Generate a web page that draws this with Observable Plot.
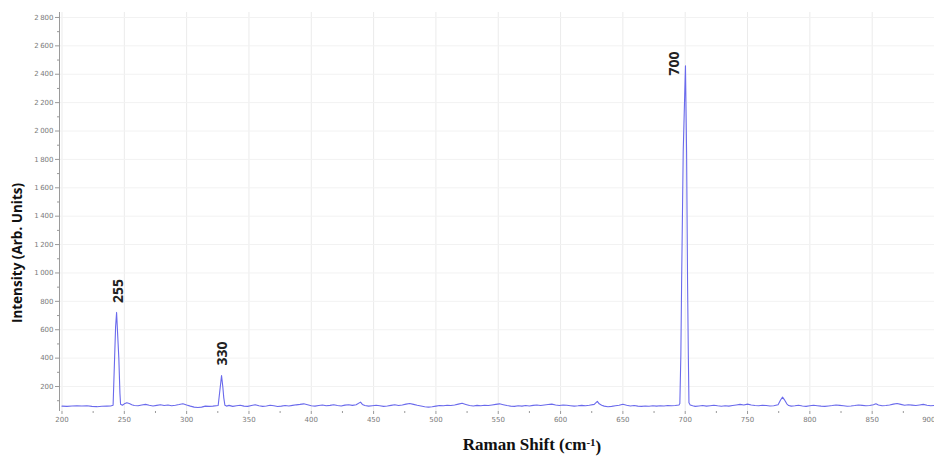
<!DOCTYPE html>
<html>
<head>
<meta charset="utf-8">
<script src="https://cdn.jsdelivr.net/npm/d3@7"></script>
<script src="https://cdn.jsdelivr.net/npm/@observablehq/plot@0.6"></script>
<style>
  html, body { margin: 0; padding: 0; background: #fff; }
  #chart svg { display: block; }
</style>
</head>
<body>
<div id="chart"></div>
<script>
// Raman shift (cm-1) and intensity (arb. units)
const shift = [
  200, 204, 208, 212, 216, 220, 224, 228, 232, 236, 239, 241, 242.2, 243, 243.8, 244.7, 245.6, 246.5, 247,
  248.5, 250, 252, 254, 256, 258, 261, 264, 267, 270, 273, 276, 279, 282, 285, 288, 291, 294, 297, 300,
  303, 306, 309, 312, 315, 318, 321, 325.3, 326.5, 328, 329, 329.8, 330.7, 332, 334, 337, 340, 343, 346,
  349, 352, 355, 358, 361, 364, 367, 370, 373, 376, 379, 382, 385, 388, 391, 394, 397, 400,
  403, 406, 409, 412, 415, 418, 421, 424, 427, 430, 433, 436, 439.5, 441, 443, 446, 449, 452, 455, 458,
  461, 464, 467, 470, 473, 476, 479, 482, 485, 488, 491, 494, 497, 500, 503, 506, 509, 512, 515, 518,
  521, 524, 527, 530, 533, 536, 539, 542, 545, 548, 551, 554, 557, 560, 563, 566, 569, 572, 575, 578,
  581, 584, 587, 590, 593, 596, 599, 602, 605, 608, 611, 614, 617, 620, 623, 627, 629.5, 631, 633, 635,
  638, 641, 644, 647, 650, 653, 656, 659, 662, 665, 668, 671, 674, 677, 680, 683, 686, 689, 692, 695,
  695.7, 696.5, 697.1, 698.4, 700.2, 701.1, 701.9, 702.5, 703, 704, 706, 708, 711, 714, 717, 720, 723, 726,
  729, 732, 735, 738, 741, 744, 747, 750, 753, 756, 759, 762, 765, 768, 771, 774.5, 776.5, 778.1, 779.5, 781.5,
  783, 785, 788, 791, 794, 797, 800, 803, 806, 809, 812, 815, 818, 821, 824, 827, 830, 833, 836, 839,
  842, 845, 848, 851, 853, 855, 858, 861, 864, 867, 870, 873, 876, 879, 882, 885, 888, 891, 894, 897, 900
];
const intensity = [
  62, 60, 63, 65, 63, 64, 60, 58, 61, 62, 63, 68, 400, 620, 722, 560, 400, 150, 75,
  68, 78, 85, 80, 72, 66, 64, 70, 74, 68, 63, 67, 71, 66, 70, 64, 68, 73, 79, 70,
  62, 55, 52, 55, 62, 60, 62, 66, 160, 277, 200, 120, 68, 62, 67, 60, 64, 68, 62,
  60, 66, 72, 65, 60, 63, 68, 64, 59, 62, 66, 63, 67, 71, 74, 78, 72, 65,
  62, 66, 70, 64, 67, 72, 66, 63, 69, 72, 67, 72, 90, 74, 66, 62, 65, 68, 64, 60,
  63, 67, 71, 66, 70, 76, 80, 74, 68, 63, 58, 55, 57, 62, 66, 64, 68, 66, 70, 76,
  82, 74, 66, 63, 67, 64, 68, 66, 70, 74, 78, 72, 66, 62, 60, 64, 62, 66, 63, 67,
  70, 66, 70, 73, 76, 70, 66, 70, 68, 65, 62, 64, 67, 65, 68, 74, 95, 78, 68, 62,
  58, 60, 64, 68, 75, 68, 63, 66, 62, 60, 63, 61, 64, 62, 65, 63, 66, 64, 66, 70,
  80, 420, 923, 1856, 2460, 1856, 923, 420, 85, 70, 64, 60, 63, 66, 62, 65, 68, 64,
  61, 64, 62, 66, 70, 74, 70, 76, 70, 66, 64, 68, 66, 63, 65, 72, 105, 125, 108, 78,
  66, 62, 64, 68, 63, 60, 64, 68, 65, 62, 60, 63, 66, 70, 67, 64, 61, 63, 66, 70,
  67, 64, 66, 72, 78, 70, 64, 66, 70, 76, 80, 74, 68, 72, 69, 66, 70, 74, 68, 65, 67
];

// Peak annotations
const peakLabels = ["255", "330", "700"];
const peakLabelX = [245, 329, 691.5];
const peakLabelY = [873, 432, 2476];

// Axis ticks
const xTicks = [200, 250, 300, 350, 400, 450, 500, 550, 600, 650, 700, 750, 800, 850];
const xLastTick = [900];
const xMinor = [225, 275, 325, 375, 425, 475, 525, 575, 625, 675, 725, 775, 825, 875];
const yTicks = [200, 400, 600, 800, 1000, 1200, 1400, 1600, 1800, 2000, 2200, 2400, 2600, 2800];
const yMinor = [100, 300, 500, 700, 900, 1100, 1300, 1500, 1700, 1900, 2100, 2300, 2500, 2700];

const yTitle = "Intensity (Arb. Units)";
const xTitle = "Raman Shift (cm-1)";

const spectrum = shift.map((x, i) => ({x, y: intensity[i]}));
const labels = peakLabels.map((t, i) => ({x: peakLabelX[i], y: peakLabelY[i], t}));
const fmt = d => d >= 1000 ? String(d).replace(/(\d)(\d{3})$/, "$1\u2009$2") : String(d);

const tickStyle = {fontSize: 7, color: "#7a7a7a", stroke: "#9a9a9a", label: null};

const chart = Plot.plot({
  width: 934,
  height: 457,
  marginLeft: 59,
  marginRight: 0,
  marginTop: 12,
  marginBottom: 46,
  style: {background: "#fff", fontFamily: "DejaVu Sans"},
  x: {domain: [198, 900]},
  y: {domain: [24, 2835]},
  marks: [
    Plot.gridX(xTicks.concat(xLastTick), {stroke: "#ebebeb", strokeOpacity: 1}),
    Plot.gridY(yTicks, {stroke: "#f2f2f2", strokeOpacity: 1}),
    Plot.ruleX([198], {stroke: "#9a9a9a"}),
    Plot.axisY(yTicks, {...tickStyle, tickSize: 4, tickFormat: fmt, tickPadding: 2}),
    Plot.axisY(yMinor, {tickSize: 2, tickFormat: () => "", stroke: "#9a9a9a", label: null}),
    Plot.axisX(xTicks, {...tickStyle, tickSize: 3, tickPadding: 3}),
    Plot.axisX(xLastTick, {...tickStyle, tickSize: 3, tickPadding: 3, textAnchor: "end", dx: 1}),
    Plot.axisX(xMinor, {tickSize: 2, tickFormat: () => "", stroke: "#9a9a9a", label: null}),
    Plot.line(spectrum, {x: "x", y: "y", stroke: "#6a6aec", strokeWidth: 1.1}),
    Plot.text(labels, {x: "x", y: "y", text: "t", rotate: -90, fontSize: 14, fontWeight: "bold", fontFamily: "Open Sans", fill: "#222"}),
    Plot.text([yTitle], {frameAnchor: "left", text: d => d, rotate: -90, textAnchor: "middle", lineAnchor: "middle", dx: -42, dy: 41, fontSize: 13.5, fontWeight: "bold", fontFamily: "Open Sans", fill: "#111"}),
    Plot.text([xTitle], {frameAnchor: "bottom", text: d => d, textAnchor: "middle", lineAnchor: "middle", dx: 35, dy: 33, fontSize: 17, fontWeight: "bold", fontFamily: "Liberation Serif", fill: "#111"})
  ]
});

// superscript for the unit
d3.select(chart).selectAll("text").filter(function () { return this.textContent === xTitle; })
  .each(function () {
    const t = d3.select(this);
    t.text(null);
    t.append("tspan").text("Raman Shift (cm");
    t.append("tspan").attr("dy", "-0.4em").attr("font-size", "11px").text("-1");
    t.append("tspan").attr("dy", "0.4em").text(")");
  });

document.getElementById("chart").append(chart);
</script>
</body>
</html>
